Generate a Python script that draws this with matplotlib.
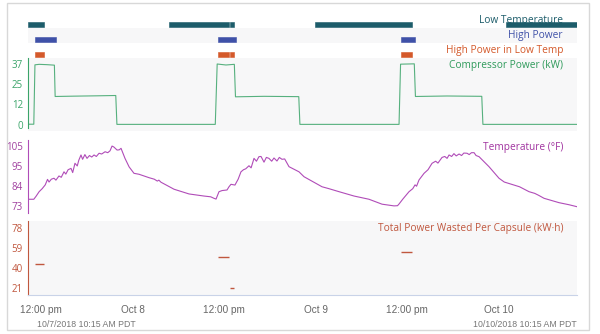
import matplotlib
matplotlib.use("Agg")
import matplotlib.pyplot as plt
from matplotlib.patches import Rectangle

# hours after 10/7/2018 10:15 AM PDT
low_temp_spans = [(0.0, 2.1), (18.5, 26.4), (26.55, 27.1), (37.7, 50.4), (62.7, 72.0)]
high_power_spans = [(0.96, 3.67), (24.96, 27.3), (48.9, 50.8)]
hp_low_temp_spans = [(0.96, 2.1), (24.96, 26.4), (26.55, 27.1), (48.9, 50.4)]
wasted_kwh = [44, 51, 21, 55]

comp_hours = [0.0, 0.8, 0.95, 1.5, 2.5, 3.5, 3.6, 6.0, 9.0, 11.55, 11.7, 18.0, 24.6,
              24.85, 26.0, 27.1, 27.25, 31.0, 35.55, 35.7, 48.7, 48.9, 50.7, 50.85,
              55.0, 59.55, 59.7, 72.0]
comp_kw = [0.3, 0.3, 36.5, 36.8, 36.6, 36.3, 17.2, 17.4, 17.6, 17.8, 0.2, 0.2, 0.2,
           37.0, 36.4, 36.8, 17.0, 17.3, 17.1, 0.2, 0.2, 36.9, 37.1, 17.2,
           17.5, 17.3, 0.2, 0.2]

temp_hours = [0.0, 0.8, 1.1, 1.5, 1.9, 2.3, 2.6, 2.8, 3.1, 3.45, 3.7, 4.1, 4.4, 4.76,
              5.0, 5.3, 5.68, 5.9, 6.2, 6.5, 6.7, 6.99, 7.2, 7.5, 7.78, 8.1, 8.4, 8.7,
              9.0, 9.36, 9.7, 10.15, 10.5, 10.8, 11.06, 11.3, 11.72, 12.0, 12.24, 12.76,
              13.3, 13.94, 14.6, 15.91, 16.6, 17.0, 17.2, 17.48, 19.19, 21.16, 23.12,
              24.0, 24.43, 24.7, 25.09, 25.5, 26.14, 26.4, 26.66, 27.18, 27.6, 27.97,
              28.3, 28.6, 29.02, 29.3, 29.68, 30.0, 30.33, 30.6, 30.99, 31.3, 31.64,
              32.0, 32.3, 32.69, 33.0, 33.35, 33.7, 34.27, 35.58, 36.24, 37.5, 38.6,
              39.5, 40.83, 42.8, 44.76, 46.47, 48.04, 48.5, 48.7, 49.2, 50.01, 50.5,
              50.8, 51.0, 51.32, 51.98, 52.5, 53.03, 53.5, 53.8, 54.34, 54.7, 55.0,
              55.26, 55.6, 55.9, 56.2, 56.57, 56.9, 57.2, 57.62, 57.9, 58.2, 58.54,
              58.8, 59.19, 60.5, 61.81, 62.5, 63.78, 64.5, 65.75, 66.5, 67.0, 67.72,
              68.5, 69.68, 71.0, 72.0]
temp_f = [76.9, 76.9, 78.5, 80.9, 82.5, 84.5, 87.4, 86.0, 87.5, 88.0, 87.0, 89.2, 88.5,
          91.4, 90.2, 92.5, 93.2, 91.0, 95.9, 94.5, 97.5, 100.3, 98.0, 100.5, 98.5,
          100.0, 99.2, 100.3, 99.5, 101.2, 100.8, 102.0, 101.5, 102.5, 105.0, 104.5,
          102.9, 103.0, 103.8, 98.5, 94.0, 90.6, 90.1, 88.3, 87.5, 86.5, 87.0, 85.9,
          82.2, 79.7, 78.6, 78.2, 77.4, 77.0, 80.9, 81.5, 81.8, 83.5, 84.8, 84.4, 87.5,
          91.4, 92.5, 93.0, 94.6, 93.5, 98.5, 97.0, 99.4, 99.5, 96.5, 99.0, 98.5, 97.0,
          98.7, 97.1, 99.0, 98.0, 98.2, 94.1, 91.4, 88.8, 86.0, 83.5, 82.5, 80.9, 78.6,
          76.9, 74.3, 73.4, 73.5, 74.4, 77.0, 80.9, 82.5, 84.5, 83.8, 87.1, 90.6, 92.5,
          95.9, 97.0, 96.0, 99.0, 99.5, 98.5, 100.3, 99.5, 101.0, 99.8, 100.8, 100.0,
          101.3, 101.2, 100.5, 101.5, 101.5, 100.0, 99.4, 94.1, 88.0, 86.0, 84.4, 83.5,
          80.9, 80.0, 79.0, 77.4, 76.5, 75.1, 74.0, 73.0]

x_ticks = [1.75, 13.75, 25.75, 37.75, 49.75, 61.75]
x_labels = ["12:00 pm", "Oct 8", "12:00 pm", "Oct 9", "12:00 pm", "Oct 10"]
start_label = "10/7/2018 10:15 AM PDT"
end_label = "10/10/2018 10:15 AM PDT"

TEAL = "#1c5c6a"
BLUE = "#3f51a8"
ORANGE = "#d4592a"
GREEN = "#3aa469"
PURPLE = "#b04cb8"
BROWN = "#c0573e"
PANEL = "#f7f7f8"

W, H = 600, 334
fig = plt.figure(figsize=(W / 100, H / 100), dpi=100)
fig.patch.set_facecolor("white")
fig.add_artist(Rectangle((6.7 / W, 1 - 330 / H), (589 - 6.7) / W, (330 - 3) / H,
                         transform=fig.transFigure, fill=False,
                         edgecolor="#d8d8d8", linewidth=1))

X0, X1 = 27.7, 576.7
LABEL_X = 563 / W
LABEL_FONT = ["Open Sans", "DejaVu Sans"]


def add_row(top, bottom, bg):
    ax = fig.add_axes([X0 / W, 1 - bottom / H, (X1 - X0) / W, (bottom - top) / H])
    ax.set_facecolor(bg)
    ax.set_xlim(0, 72)
    for s in ax.spines.values():
        s.set_visible(False)
    ax.set_xticks([])
    ax.tick_params(axis="y", length=0, pad=3.5, labelsize=7)
    for t in ax.get_yticklabels():
        t.set_fontfamily(LABEL_FONT)
    return ax


def row_label(ax, text, y_px, color):
    ax.text(LABEL_X, 1 - y_px / H, text, transform=fig.transFigure, ha="right",
            va="center", color=color, fontsize=7.3, family=LABEL_FONT, zorder=1)


def bar_row(top, bottom, bg, spans, color, center_px, label, label_y):
    ax = add_row(top, bottom, bg)
    ax.set_ylim(bottom, top)
    ax.set_yticks([])
    row_label(ax, label, label_y, color)
    ax.broken_barh([(a, b - a) for a, b in spans], (center_px - 2.3, 4.6),
                   facecolors=color, edgecolors=color, linewidth=0.4, zorder=3)
    return ax


bar_row(10, 28, "white", low_temp_spans, TEAL, 24.6, "Low Temperature", 20.5)
bar_row(28, 43, PANEL, high_power_spans, BLUE, 39.7, "High Power", 35.3)
bar_row(43, 58, "white", hp_low_temp_spans, ORANGE, 54.6, "High Power in Low Temp", 50.3)

# compressor power
ax_c = add_row(58, 131, PANEL)
ax_c.set_ylim(-3.84, 40.66)
ax_c.plot(comp_hours, comp_kw, color=GREEN, linewidth=0.8, alpha=0.85)
ax_c.set_yticks([0, 37 / 3, 74 / 3, 37])
ax_c.set_yticklabels(["0", "12", "25", "37"], color=GREEN, family=LABEL_FONT)
ax_c.spines["left"].set_visible(True)
ax_c.spines["left"].set_color(GREEN)
ax_c.spines["left"].set_bounds(-2.0, 40.66)
row_label(ax_c, "Compressor Power (kW)", 65.3, "#2e9a5a")

# temperature
ax_t = add_row(140, 212.7, "white")
ax_t.set_ylim(69.8, 108.2)
ax_t.plot(temp_hours, temp_f, color=PURPLE, linewidth=0.8)
ax_t.set_yticks([73.4, 84.0, 94.6, 105.2])
ax_t.set_yticklabels(["73", "84", "95", "105"], color="#a0409f", family=LABEL_FONT)
ax_t.spines["left"].set_visible(True)
ax_t.spines["left"].set_color(PURPLE)
row_label(ax_t, "Temperature (°F)", 148, "#a0329f")

# energy wasted while running high power at low temperature
ax_w = add_row(221, 295, PANEL)
ax_w.set_ylim(14.6, 84.9)
for (a, b), v in zip(hp_low_temp_spans, wasted_kwh):
    ax_w.hlines(v, a, b, color=BROWN, linewidth=1.0)
ax_w.set_yticks([21, 40, 59, 78])
ax_w.set_yticklabels(["21", "40", "59", "78"], color=BROWN, family=LABEL_FONT)
ax_w.spines["left"].set_visible(True)
ax_w.spines["left"].set_color(BROWN)
ax_w.spines["bottom"].set_visible(True)
ax_w.spines["bottom"].set_color("#c9d3e8")
ax_w.set_xticks(x_ticks)
ax_w.set_xticklabels(x_labels, color="#666666", fontsize=7.2,
                     family=["Liberation Sans", "DejaVu Sans"])
ax_w.tick_params(axis="x", length=0, pad=7)
row_label(ax_w, "Total Power Wasted Per Capsule (kW·h)", 229, BROWN)

fig.text(36.7 / W, 1 - 324.5 / H, start_label, ha="left", va="center",
         fontsize=6.3, color="#777777", family=["Liberation Sans", "DejaVu Sans"])
fig.text(576.7 / W, 1 - 324.5 / H, end_label, ha="right", va="center",
         fontsize=6.3, color="#777777", family=["Liberation Sans", "DejaVu Sans"])

fig.savefig("out.png", dpi=100)
